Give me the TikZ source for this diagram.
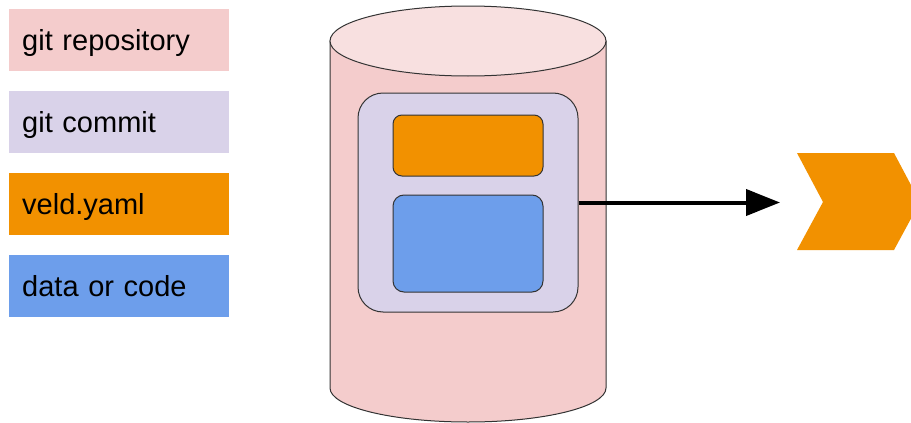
\documentclass[tikz,border=0pt]{standalone}
\usepackage{fontspec}
\setmainfont{Liberation Sans}
\usetikzlibrary{arrows.meta}

\definecolor{repopink}{HTML}{F4CCCC}
\definecolor{repotop}{HTML}{F8E0E0}
\definecolor{commitlav}{HTML}{D9D2E9}
\definecolor{yamlorange}{HTML}{F29100}
\definecolor{datablue}{HTML}{6D9EEB}
\definecolor{edge}{HTML}{333333}

\tikzset{
  legendbox/.style={draw=none, anchor=north west, minimum width=220pt, minimum height=62pt,
    inner xsep=13pt, inner ysep=0pt, text width=194pt, align=left,
    text height=26pt, text depth=6pt,
    font=\fontsize{29}{34}\selectfont},
  outline/.style={draw=edge, line width=1pt},
}

\begin{document}
\begin{tikzpicture}[x=1pt, y=-1pt]
  \useasboundingbox (0,0) rectangle (911,423);

  % legend
  \node[legendbox, fill=repopink]  (lrepo)   at (9,9)   {git repository};
  \node[legendbox, fill=commitlav] (lcommit) at (9,91)  {git commit};
  \node[legendbox, fill=yamlorange](lyaml)   at (9,173) {veld.yaml};
  \node[legendbox, fill=datablue]  (ldata)   at (9,255) {data or code};

  % repository cylinder
  \filldraw[outline, fill=repopink]
    (330,41) -- (330,388) arc[start angle=180, end angle=0, x radius=138, y radius=34]
    -- (606,41) -- cycle;
  \filldraw[outline, fill=repotop] (468,41) ellipse[x radius=138, y radius=35];

  % commit with its contents
  \node[outline, fill=commitlav, rounded corners=25pt, minimum width=220pt, minimum height=219pt,
        inner sep=0pt] (commit) at (468,202.5) {};
  \node[outline, fill=yamlorange, rounded corners=9pt, minimum width=150pt, minimum height=61pt,
        inner sep=0pt] (yaml) at (468,145.5) {};
  \node[outline, fill=datablue, rounded corners=11pt, minimum width=150pt, minimum height=97pt,
        inner sep=0pt] (data) at (468,243.5) {};

  % target chevron
  \fill[yamlorange] (797,153) -- (894,153) -- (920,202) -- (894,250) -- (797,250) -- (823,202) -- cycle;
  \coordinate (target) at (780,202.5);

  \draw[line width=4pt, -{Triangle[length=34pt, width=26pt]}] (commit.east) -- (target);
\end{tikzpicture}
\end{document}
